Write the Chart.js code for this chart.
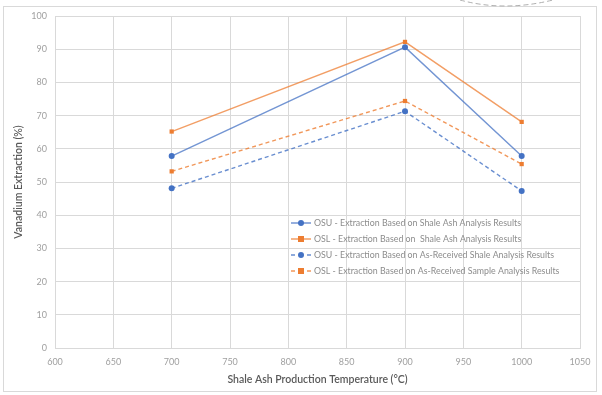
<!DOCTYPE html>
<html>
<head>
<meta charset="utf-8">
<script src="https://cdn.jsdelivr.net/npm/chart.js@4.4.1/dist/chart.umd.min.js"></script>
<style>
  html, body { margin: 0; padding: 0; background: #fff; }
  #wrap { width: 602px; height: 395px; position: relative; }
</style>
</head>
<body>
<div id="wrap"><canvas id="vanadiumChart"></canvas></div>
<script>
// temperatures (°C) and extraction (%)
const temps = [700, 900, 1000];
const osuShaleAsh = [57.8, 90.6, 57.8];
const oslShaleAsh = [65.2, 92.2, 68.1];
const osuAsReceived = [48.1, 71.3, 47.3];
const oslAsReceived = [53.2, 74.4, 55.4];
const xTicks = [600, 650, 700, 750, 800, 850, 900, 950, 1000, 1050];
const yTicks = [0, 10, 20, 30, 40, 50, 60, 70, 80, 90, 100];

const BLUE = '#4472C4';
const ORANGE = '#ED7D31';
const FONT = "Lato, 'Open Sans', 'Liberation Sans', sans-serif";

const pts = (vals) => temps.map((t, i) => ({ x: t, y: vals[i] }));

const series = [
    { label: 'OSU - Extraction Based on Shale Ash Analysis Results', data: osuShaleAsh, color: BLUE, lineAlpha: 'rgba(68,114,196,0.75)', style: 'circle', dash: [] },
    { label: 'OSL - Extraction Based on  Shale Ash Analysis Results', data: oslShaleAsh, color: ORANGE, lineAlpha: 'rgba(237,125,49,0.75)', style: 'rect', dash: [] },
    { label: 'OSU - Extraction Based on As-Received Shale Analysis Results', data: osuAsReceived, color: BLUE, lineAlpha: 'rgba(68,114,196,0.8)', style: 'circle', dash: [4, 3] },
    { label: 'OSL - Extraction Based on As-Received Sample Analysis Results', data: oslAsReceived, color: ORANGE, lineAlpha: 'rgba(237,125,49,0.8)', style: 'rect', dash: [4, 3] }
];

// outer frame + the stray dashed arc at the top
const framePlugin = {
    id: 'frame',
    beforeDraw(chart) {
        const ctx = chart.ctx;
        ctx.save();
        ctx.fillStyle = '#fff';
        ctx.fillRect(0, 0, chart.width, chart.height);
        ctx.strokeStyle = '#d9d9d9';
        ctx.lineWidth = 1;
        ctx.strokeRect(3.5, 6.5, 593, 385);
        ctx.strokeStyle = '#b0b0b0';
        ctx.setLineDash([5, 3]);
        ctx.beginPath();
        ctx.moveTo(460, 0);
        ctx.quadraticCurveTo(504, 12, 553, 0);
        ctx.stroke();
        ctx.restore();
    }
};

// legend drawn inside the plot area
const legendPlugin = {
    id: 'insideLegend',
    afterDatasetsDraw(chart) {
        const ctx = chart.ctx;
        const x0 = 291, rows = [223, 239, 255, 271];
        ctx.save();
        chart.data.datasets.forEach((ds, i) => {
            const y = rows[i];
            ctx.strokeStyle = ds.borderColor;
            ctx.lineWidth = 1.5;
            ctx.setLineDash(ds.borderDash.length ? [4, 4] : []);
            ctx.beginPath();
            ctx.moveTo(x0, y);
            ctx.lineTo(x0 + 20, y);
            ctx.stroke();
            ctx.setLineDash([]);
            ctx.fillStyle = ds.pointBackgroundColor;
            if (ds.pointStyle === 'rect') {
                ctx.fillRect(x0 + 7, y - 3, 6, 6);
            } else {
                ctx.beginPath();
                ctx.arc(x0 + 10, y, 3, 0, Math.PI * 2);
                ctx.fill();
            }
            ctx.fillStyle = '#8c8c8c';
            ctx.font = '8.8px ' + FONT;
            ctx.textBaseline = 'middle';
            ctx.fillText(ds.label, x0 + 23, y + 0.5);
        });
        ctx.restore();
    }
};

const config = {
    type: 'line',
    data: {
        datasets: series.map(s => ({
            label: s.label,
            data: pts(s.data),
            borderColor: s.lineAlpha,
            backgroundColor: s.color,
            pointBackgroundColor: s.color,
            pointBorderColor: s.color,
            pointStyle: s.style,
            pointRadius: 3,
            pointBorderWidth: 0,
            borderWidth: 1.4,
            borderDash: s.dash,
            tension: 0
        }))
    },
    options: {
        responsive: false,
        animation: false,
        devicePixelRatio: 1,
        layout: { padding: { top: 16, right: 22, bottom: 9, left: 12 } },
        plugins: {
            legend: { display: false },
            tooltip: { enabled: false }
        },
        scales: {
            x: {
                type: 'linear',
                min: 600,
                max: 1050,
                afterBuildTicks: (scale) => { scale.ticks = xTicks.map(v => ({ value: v })); },
                afterFit: (scale) => { scale.height = 38; },
                grid: { color: '#d9d9d9', lineWidth: 1, drawTicks: false },
                border: { color: '#d9d9d9' },
                ticks: {
                    padding: 9,
                    color: '#a0a0a0',
                    font: { family: FONT, size: 9 },
                    maxRotation: 0,
                    callback: (v) => String(v)
                },
                title: {
                    display: true,
                    text: 'Shale Ash Production Temperature (°C)',
                    color: '#595959',
                    font: { family: FONT, size: 10.5, weight: '600' },
                    padding: { top: 3, bottom: 0 }
                }
            },
            y: {
                min: 0,
                max: 100,
                afterBuildTicks: (scale) => { scale.ticks = yTicks.map(v => ({ value: v })); },
                afterFit: (scale) => { scale.width = 43; },
                grid: { color: '#d9d9d9', lineWidth: 1, drawTicks: false },
                border: { color: '#d9d9d9' },
                ticks: {
                    padding: 8,
                    color: '#a0a0a0',
                    font: { family: FONT, size: 9 },
                    callback: (v) => String(v)
                },
                title: {
                    display: true,
                    text: 'Vanadium Extraction (%)',
                    color: '#595959',
                    font: { family: FONT, size: 10.5, weight: '600' },
                    padding: { top: 0, bottom: 8 }
                }
            }
        }
    },
    plugins: [framePlugin, legendPlugin]
};

const canvas = document.getElementById('vanadiumChart');
canvas.width = 602;
canvas.height = 395;
const myChart = new Chart(canvas.getContext('2d'), config);
</script>
</body>
</html>
